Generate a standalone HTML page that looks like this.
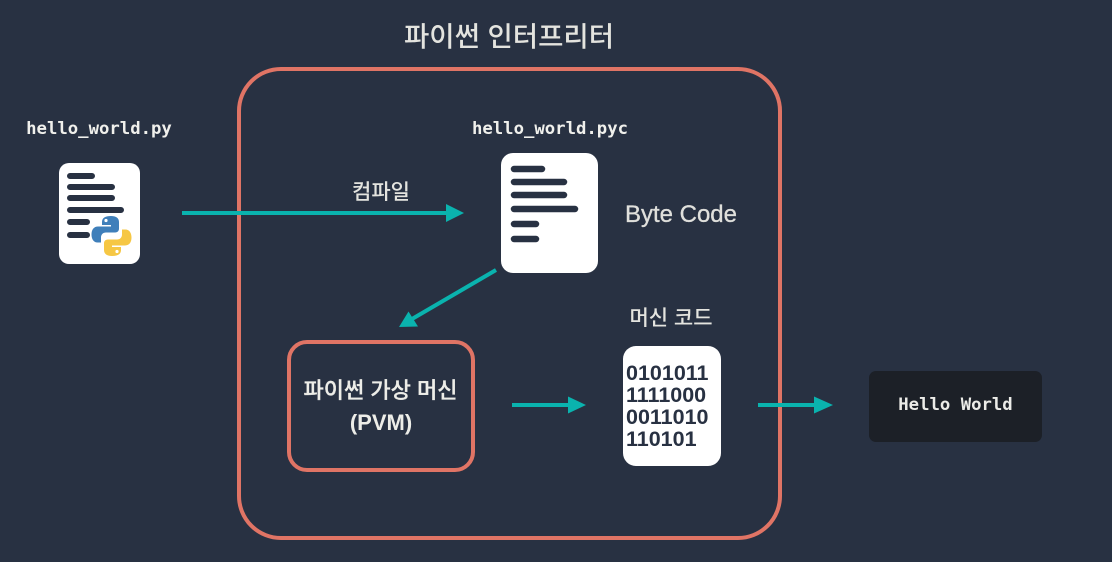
<!DOCTYPE html>
<html><head><meta charset="utf-8"><style>
html,body{margin:0;padding:0;background:#283142}
svg{display:block}
text{font-family:"Liberation Sans","Noto Sans CJK KR",sans-serif}
.m{font-family:"DejaVu Sans Mono","Liberation Mono",monospace;font-weight:700}
</style></head><body>
<svg width="1112" height="562" viewBox="0 0 1112 562" xmlns="http://www.w3.org/2000/svg">
<rect width="1112" height="562" fill="#283142"/>
<text x="509" y="46" font-size="27.500" font-weight="500" fill="#e4e4df" text-anchor="middle">파이썬 인터프리터</text>
<rect x="239" y="69" width="541" height="469" rx="42" fill="none" stroke="#e07465" stroke-width="4"/>
<text class="m" x="99" y="134" font-size="17.300" fill="#f0f0ec" text-anchor="middle">hello_world.py</text>
<text class="m" x="550" y="134" font-size="17.300" fill="#f0f0ec" text-anchor="middle">hello_world.pyc</text>
<rect x="59" y="163" width="81" height="101" rx="10" fill="#fff"/>
<g stroke="#283142" stroke-width="6" stroke-linecap="round">
<path d="M70 176H92M70 187H112M70 198H112M70 210H121M70 222H87M70 235H87"/>
</g>
<path d="M111 216c-6 0-9 2-9 6v3h9v1.500h-13c-4 0-6.500 3-6.500 8s2.500 8 6 8h3.500v-5c0-3 2-5 5-5h9c3 0 4-2 4-4v-6.500c0-4-3-6-8-6z" fill="#3f7fba"/>
<path d="M112 256c6 0 9-2 9-6v-3h-9v-1.500h13c4 0 6.500-3 6.500-8s-2.500-8-6-8h-3.500v5c0 3-2 5-5 5h-9c-3 0-4 2-4 4v6.500c0 4 3 6 8 6z" fill="#f6c744"/>
<circle cx="106" cy="220.500" r="1.600" fill="#fff"/><circle cx="117" cy="251.500" r="1.600" fill="#fff"/>
<rect x="501" y="153" width="97" height="120" rx="12" fill="#fff"/>
<g stroke="#283142" stroke-width="6.500" stroke-linecap="round">
<path d="M514 169H542M514 182H564M514 195H564M514 209H575M514 224H536M514 239H536"/>
</g>
<text x="381" y="199" font-size="21" font-weight="500" fill="#e4e4df" text-anchor="middle">컴파일</text>
<path d="M182 213H447" stroke="#0ab3ae" stroke-width="4" fill="none"/>
<path d="M464 213L446 204V222Z" fill="#0ab3ae"/>
<text x="681" y="222" font-size="24" fill="#e0e0dc" text-anchor="middle" stroke="#e0e0dc" stroke-width="0.300" textLength="112" lengthAdjust="spacingAndGlyphs">Byte Code</text>
<path d="M496 270L412 319" stroke="#0ab3ae" stroke-width="4" fill="none"/>
<path d="M399 327L418 326.500L408.500 311.500Z" fill="#0ab3ae"/>
<rect x="289" y="342" width="184" height="128" rx="18" fill="none" stroke="#e07465" stroke-width="4"/>
<text x="380.500" y="398" font-size="22" font-weight="500" fill="#ededE8" stroke="#ededE8" stroke-width="0.300" text-anchor="middle">파이썬 가상 머신</text>
<text x="381" y="430" font-size="22" font-weight="700" fill="#ededE8" text-anchor="middle">(PVM)</text>
<path d="M512 405H570" stroke="#0ab3ae" stroke-width="4" fill="none"/>
<path d="M586 405L568 396.500V413.500Z" fill="#0ab3ae"/>
<text x="671" y="325" font-size="21" font-weight="500" fill="#e4e4df" text-anchor="middle">머신 코드</text>
<rect x="623" y="346" width="98" height="120" rx="13" fill="#fff"/>
<g font-size="21.500" font-weight="700" fill="#283142">
<text x="626" y="380">0101011</text>
<text x="626" y="402">1111000</text>
<text x="626" y="424">0011010</text>
<text x="626" y="446">110101</text>
</g>
<path d="M758 405H816" stroke="#0ab3ae" stroke-width="4" fill="none"/>
<path d="M833 405L814 396.500V413.500Z" fill="#0ab3ae"/>
<rect x="869" y="371" width="173" height="71" rx="7" fill="#1c2027"/>
<text class="m" x="955.500" y="410" font-size="17.300" fill="#ecece8" text-anchor="middle">Hello World</text>
</svg>
</body></html>
